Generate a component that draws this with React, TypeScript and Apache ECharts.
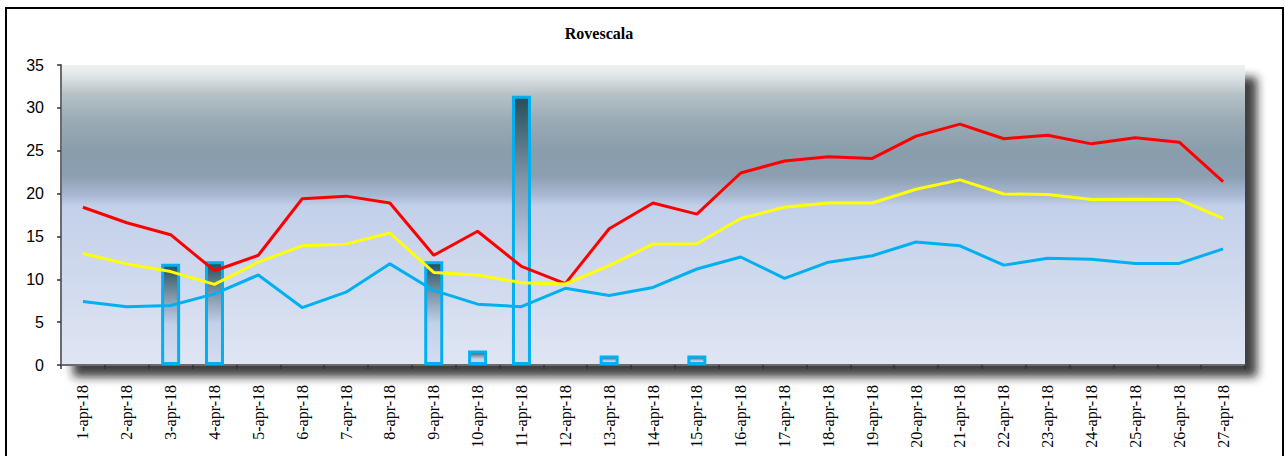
import React, { useEffect, useRef } from "react";
import * as echarts from "echarts";

const categories = [
  "1-apr-18", "2-apr-18", "3-apr-18", "4-apr-18", "5-apr-18", "6-apr-18", "7-apr-18",
  "8-apr-18", "9-apr-18", "10-apr-18", "11-apr-18", "12-apr-18", "13-apr-18", "14-apr-18",
  "15-apr-18", "16-apr-18", "17-apr-18", "18-apr-18", "19-apr-18", "20-apr-18", "21-apr-18",
  "22-apr-18", "23-apr-18", "24-apr-18", "25-apr-18", "26-apr-18", "27-apr-18",
];

const rainBars = [
  null, null, 11.8, 12.1, null, null, null, null, 12.1, 1.7, 31.4, null, 1.1, null,
  1.1, null, null, null, null, null, null, null, null, null, null, null, null,
];

const tMax = [
  18.4, 16.6, 15.2, 11.0, 12.8, 19.4, 19.7, 18.9, 12.8, 15.6, 11.5, 9.5, 15.9, 18.9,
  17.6, 22.4, 23.8, 24.3, 24.1, 26.7, 28.1, 26.4, 26.8, 25.8, 26.5, 26.0, 21.4,
];

const tMean = [
  13.0, 11.8, 10.9, 9.4, 12.0, 13.9, 14.1, 15.4, 10.8, 10.5, 9.6, 9.45, 11.6, 14.1,
  14.15, 17.1, 18.4, 18.9, 18.9, 20.5, 21.6, 19.95, 19.9, 19.3, 19.35, 19.3, 17.1,
];

const tMin = [
  7.4, 6.8, 6.95, 8.3, 10.5, 6.7, 8.5, 11.8, 8.7, 7.1, 6.8, 8.95, 8.1, 9.05,
  11.2, 12.6, 10.1, 12.0, 12.75, 14.35, 13.9, 11.65, 12.45, 12.35, 11.85, 11.85, 13.55,
];

const yTicks = { min: 0, max: 35, interval: 5 };

export default function App() {
  const ref = useRef<HTMLDivElement>(null);

  useEffect(() => {
    if (!ref.current) return;
    const chart = echarts.init(ref.current, undefined, { renderer: "svg" });
    const bg = new echarts.graphic.LinearGradient(0, 0, 0, 1, [
      { offset: 0, color: "#eef1f2" },
      { offset: 0.035, color: "#e0e6e8" },
      { offset: 0.1, color: "#b5c0c6" },
      { offset: 0.185, color: "#9aabb5" },
      { offset: 0.285, color: "#8a9dab" },
      { offset: 0.37, color: "#8c9fb2" },
      { offset: 0.435, color: "#a9b9d3" },
      { offset: 0.47, color: "#c3d0ea" },
      { offset: 1, color: "#dfe5f3" },
    ]);
    chart.setOption({
      animation: false,
      backgroundColor: "#ffffff",
      grid: {
        left: 61,
        right: 41,
        top: 65,
        bottom: 91,
        show: true,
        backgroundColor: bg,
        borderWidth: 0,
        shadowColor: "rgba(30,30,30,0.85)",
        shadowBlur: 10,
        shadowOffsetX: 12,
        shadowOffsetY: 12,
      },
      graphic: [
        {
          type: "rect",
          shape: { x: 6, y: 8, width: 1277, height: 470 },
          style: { fill: "none", stroke: "#000", lineWidth: 2 },
          z: 100,
        },
        {
          type: "text",
          x: 599,
          y: 33,
          style: {
            text: "Rovescala",
            font: "bold 16px 'Liberation Serif'",
            fill: "#000",
            textAlign: "center",
            textVerticalAlign: "middle",
          },
        },
      ],
      xAxis: {
        type: "category",
        data: categories,
        boundaryGap: true,
        axisLine: { show: true, lineStyle: { color: "#6b6b6b", width: 2 } },
        axisTick: { show: true, alignWithLabel: false, length: 4, lineStyle: { color: "#333", width: 1.5 } },
        axisLabel: {
          interval: 0,
          rotate: 90,
          margin: 20,
          color: "#000",
          fontFamily: "'Liberation Serif'",
          fontSize: 16,
        },
        splitLine: { show: false },
      },
      yAxis: {
        type: "value",
        min: yTicks.min,
        max: yTicks.max,
        interval: yTicks.interval,
        axisLine: { show: true, lineStyle: { color: "#6b6b6b", width: 2 } },
        axisTick: { show: true, length: 4, lineStyle: { color: "#333", width: 1.5 } },
        axisLabel: {
          margin: 17,
          color: "#000",
          fontFamily: "'Liberation Sans'",
          fontSize: 16,
        },
        splitLine: { show: false },
      },
      series: [
        {
          type: "bar",
          data: rainBars,
          barWidth: 19,
          itemStyle: {
            color: new echarts.graphic.LinearGradient(0, 0, 0, 1, [
              { offset: 0, color: "#244f5b" },
              { offset: 0.3, color: "#7d93a6" },
              { offset: 0.6, color: "#c2d0e9" },
              { offset: 1, color: "#d3ddf0" },
            ]),
            borderColor: "#00b0f0",
            borderWidth: 3,
          },
          z: 1,
        },
        {
          type: "line",
          data: tMax,
          showSymbol: false,
          symbol: "none",
          lineStyle: { color: "#ff0000", width: 3 },
          z: 3,
        },
        {
          type: "line",
          data: tMean,
          showSymbol: false,
          symbol: "none",
          lineStyle: { color: "#ffff00", width: 3 },
          z: 3,
        },
        {
          type: "line",
          data: tMin,
          showSymbol: false,
          symbol: "none",
          lineStyle: { color: "#00b0f0", width: 3 },
          z: 3,
        },
      ],
    });
    return () => chart.dispose();
  }, []);

  return (
    <div
      ref={ref}
      style={{ position: "fixed", left: 0, top: 0, width: 1286, height: 456, background: "#fff" }}
    />
  );
}
